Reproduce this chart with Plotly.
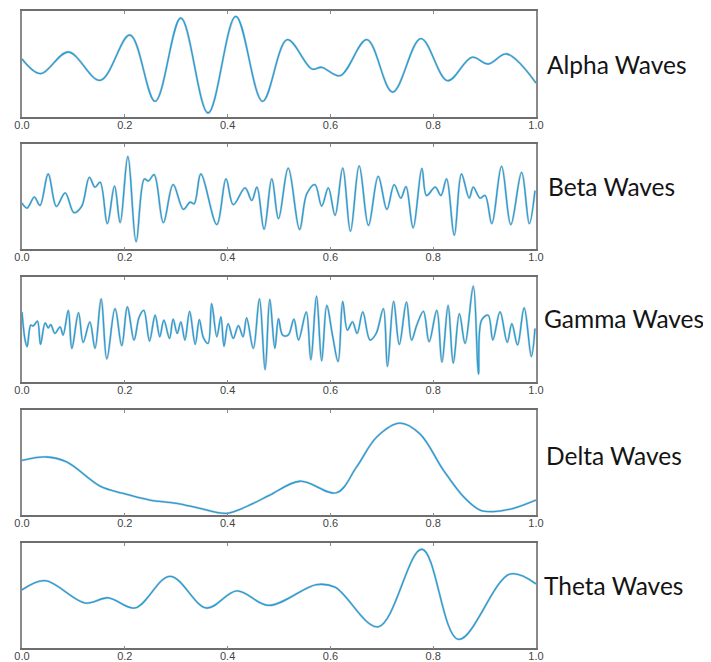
import plotly.graph_objects as go

# ---------------- data (time in s, amplitude in arbitrary units) ----------------
alpha_x = [0, 0.036, 0.090, 0.152, 0.210, 0.259, 0.309, 0.362, 0.416, 0.468, 0.516, 0.564, 0.583,
           0.619, 0.671, 0.721, 0.776, 0.828, 0.875, 0.907, 0.943, 1.0]
alpha_y = [58, 43.3, 65, 36.7, 82, 15.7, 99, 4, 100.7, 15.7, 77.3, 48, 49.7,
           41.3, 77.3, 25, 78.3, 36.3, 59.7, 53, 63, 34]

beta_x = [0, 0.010, 0.024, 0.035, 0.051, 0.067, 0.084, 0.101, 0.116, 0.131, 0.142, 0.152, 0.166,
          0.180, 0.191, 0.206, 0.222, 0.238, 0.246, 0.257, 0.275, 0.294, 0.314, 0.327, 0.335,
          0.348, 0.379, 0.397, 0.411, 0.434, 0.447, 0.457, 0.471, 0.486, 0.499, 0.518, 0.540,
          0.554, 0.570, 0.583, 0.596, 0.609, 0.624, 0.639, 0.656, 0.674, 0.693, 0.710, 0.724,
          0.737, 0.747, 0.761, 0.778, 0.787, 0.804, 0.815, 0.826, 0.841, 0.855, 0.870, 0.878,
          0.891, 0.901, 0.914, 0.933, 0.951, 0.972, 0.987, 0.998]
beta_y = [46.7, 41.7, 52.7, 44.3, 76, 43.3, 57, 37, 43.3, 72.7, 62.7, 67.7, 26,
          63.7, 27, 93.7, 7.7, 71, 69, 75.3, 27, 65.3, 40.3, 47.7, 46,
          76, 25, 71, 45, 62, 49.3, 62.7, 20.3, 71, 31, 82, 20,
          56, 65.3, 43.7, 62, 34.3, 82, 18.3, 84.3, 24.3, 73.7, 40.3, 65.3,
          51.7, 63.3, 21.7, 81.7, 54.3, 62.7, 54.3, 71, 14.3, 76, 51.7, 62.7,
          51.7, 54.3, 26, 83.7, 25, 77.7, 26, 59.3]

gamma_x = [0, 0.006, 0.010, 0.017, 0.022, 0.030, 0.036, 0.045, 0.051, 0.056, 0.064, 0.074, 0.080,
           0.090, 0.097, 0.110, 0.119, 0.132, 0.142, 0.154, 0.165, 0.181, 0.194, 0.205, 0.218,
           0.228, 0.237, 0.248, 0.259, 0.268, 0.276, 0.287, 0.294, 0.302, 0.309, 0.317, 0.326,
           0.337, 0.345, 0.353, 0.362, 0.369, 0.379, 0.387, 0.393, 0.401, 0.411, 0.421, 0.430,
           0.437, 0.450, 0.462, 0.473, 0.482, 0.492, 0.499, 0.507, 0.518, 0.529, 0.538, 0.553,
           0.562, 0.573, 0.583, 0.593, 0.604, 0.615, 0.624, 0.633, 0.643, 0.652, 0.663, 0.677,
           0.689, 0.703, 0.711, 0.723, 0.734, 0.748, 0.758, 0.768, 0.781, 0.792, 0.807, 0.817,
           0.829, 0.839, 0.851, 0.862, 0.878, 0.888, 0.894, 0.907, 0.916, 0.930, 0.944, 0.953,
           0.964, 0.977, 0.991, 0.998]
gamma_y = [71, 42.7, 36, 57.7, 57, 61.7, 38.3, 60, 55, 58.3, 49.3, 56, 47.7,
           72.7, 34.3, 70.3, 40.3, 61, 34.3, 84.3, 23.7, 74.3, 37, 76, 42.7,
           66, 72.7, 41.7, 67.7, 46, 62.7, 44.3, 63.7, 49.3, 61, 42.7, 71.7,
           38.3, 63.3, 45, 39.3, 79.3, 46, 66, 36.3, 59.3, 44.3, 57.3, 46,
           65, 34.3, 84.3, 12.7, 83.7, 34.3, 64.3, 47.7, 47.7, 63.7, 42.7, 71,
           22.7, 87, 21.7, 77.7, 47.7, 21, 81.7, 52.7, 61, 49.3, 71, 42.7,
           49.3, 74.3, 16, 81.7, 38.3, 81, 42.7, 57.7, 71.7, 41, 72.7, 20.3,
           77.7, 19.3, 69.3, 39.3, 97, 8.3, 62.7, 67.7, 42.7, 71, 40.3, 59.3,
           37.7, 75, 26, 54.3]

delta_x = [0, 0.048, 0.087, 0.152, 0.197, 0.249, 0.301, 0.346, 0.398, 0.450, 0.482, 0.541,
           0.612, 0.651, 0.690, 0.735, 0.774, 0.820, 0.859, 0.891, 0.917, 0.956, 1.0]
delta_y = [55.3, 58.7, 53.7, 29.3, 22, 15.3, 12, 7, 2, 12, 20.3, 34.3,
           22.7, 48.7, 78.7, 92.7, 82, 45.3, 18.7, 5.3, 3.7, 7, 15.3]

theta_x = [0, 0.045, 0.123, 0.168, 0.220, 0.288, 0.359, 0.418, 0.480, 0.573, 0.609, 0.693,
           0.778, 0.849, 0.949, 1.0]
theta_y = [59, 68.3, 45.7, 51, 40.7, 72.7, 40.7, 58, 43.3, 64.3, 61.7, 21.7,
           100, 9, 75, 65]

panel_names = ["Alpha Waves", "Beta Waves", "Gamma Waves", "Delta Waves", "Theta Waves"]
series = [(alpha_x, alpha_y), (beta_x, beta_y), (gamma_x, gamma_y), (delta_x, delta_y), (theta_x, theta_y)]
tick_vals = [0.0, 0.2, 0.4, 0.6, 0.8, 1.0]
tick_text = ["0.0", "0.2", "0.4", "0.6", "0.8", "1.0"]

# ---------------- layout ----------------
# the page body has an 8px margin: the figure is offset by it
OFF = 8
W, H = 711 - OFF, 662 - OFF


def fx(px):
    return (px - OFF) / W


def fy(py):
    return 1 - (py - OFF) / H


x_dom = [fx(22), fx(536)]
panel_px = [(11, 117), (144.3, 249.3), (277.3, 382.3), (410, 515.3), (543.3, 648.3)]
label_pos = [(545, 64.5), (546, 186.5), (542, 318.5), (544, 455.5), (542, 585.5)]

fig = go.Figure()
layout = dict(width=W, height=H, margin=dict(l=0, r=0, t=0, b=0, autoexpand=False),
              paper_bgcolor="white", plot_bgcolor="white", showlegend=False, annotations=[])

for i, ((xs, ys), name) in enumerate(zip(series, panel_names)):
    n = "" if i == 0 else str(i + 1)
    top, bot = panel_px[i]
    fig.add_trace(go.Scatter(x=xs, y=ys, mode="lines", line=dict(color="#cccccc", width=2.3, shape="spline", smoothing=1),
                             xaxis="x" + n, yaxis="y" + n, hoverinfo="skip"))
    fig.add_trace(go.Scatter(x=xs, y=ys, mode="lines", line=dict(color="#1ea0de", width=1.3, shape="spline", smoothing=1),
                             xaxis="x" + n, yaxis="y" + n))
    layout["xaxis" + n] = dict(domain=x_dom, anchor="y" + n, range=[0, 1], tickvals=tick_vals, ticktext=tick_text,
                               showgrid=False, zeroline=False, showline=True, mirror="ticks", linecolor="#6e6e6e",
                               linewidth=1.5, ticks="inside", ticklen=3, tickcolor="#8a8a8a", automargin=False,
                               ticklabelstandoff=-3,
                               tickfont=dict(family="Liberation Sans", size=11, color="#444444"))
    layout["yaxis" + n] = dict(domain=[fy(bot), fy(top)], anchor="x" + n, range=[0, 106], automargin=False,
                               showticklabels=False, showgrid=False, zeroline=False, showline=True, mirror=True,
                               linecolor="#8a8a8a", linewidth=1.5, ticks="")
    lx, ly = label_pos[i]
    layout["annotations"].append(dict(text=name, x=fx(lx), y=fy(ly), xref="paper", yref="paper",
                                      xanchor="left", yanchor="middle", showarrow=False,
                                      font=dict(family="Lato", size=24.5, color="#141414")))

fig.update_layout(**layout)
fig.write_html("out.html")
